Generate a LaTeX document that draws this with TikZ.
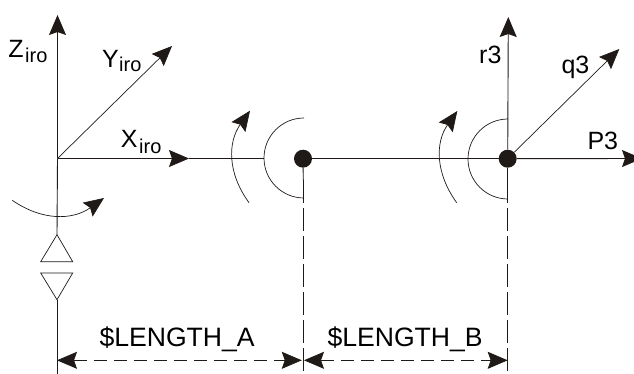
\documentclass[tikz,border=0pt]{standalone}
\usepackage{fontspec}
\setmainfont{Liberation Sans}
\usetikzlibrary{arrows.meta}
\definecolor{ink}{HTML}{1F1A17}
\tikzset{
  x=1pt,y=-1pt,
  line/.style={draw=ink,line width=0.9pt},
  thin line/.style={draw=ink,line width=0.7pt},
  tip/.style={-{Stealth[length=20pt,width=17pt,inset=3pt,fill=ink]}},
  tipped/.style={line,tip},
  thin tipped/.style={thin line,tip},
  tipped both/.style={draw=ink,line width=0.8pt,dash pattern=on 13pt off 7pt,{Stealth[length=20pt,width=17pt,inset=3pt,fill=ink]}-{Stealth[length=20pt,width=17pt,inset=3pt,fill=ink]}},
  dim line/.style={draw=ink,line width=0.8pt,dash pattern=on 23pt off 5pt},
  joint/.style={circle,fill=ink,draw=none,minimum size=18pt,inner sep=0pt},
  lab/.style={anchor=base west,inner sep=0pt,text=black,font=\fontsize{25}{25}\selectfont},
  dimlab/.style={anchor=base west,inner sep=0pt,text=black,font=\fontsize{26.6}{27}\selectfont},
  sub/.style={anchor=base west,inner sep=0pt,text=black,font=\fontsize{20}{20}\selectfont},
}
\begin{document}
\begin{tikzpicture}
\useasboundingbox (0,0) rectangle (634,374);
% named points
\coordinate (O) at (57.5,158.5);
\coordinate (Ztip) at (57.5,15);
\coordinate (Ytip) at (172,46);
\coordinate (Xtip) at (189,158.5);
\coordinate (arcAleft) at (264,158.5);
\node[joint] (A) at (303,158.7) {};
\node[joint] (B) at (507.7,158.7) {};
\coordinate (rtip) at (508.3,17);
\coordinate (qtip) at (619.3,49);
\coordinate (Ptip) at (642,158.5);
\coordinate (triTop) at (57,234.7);
\coordinate (triBot) at (57,299.7);
\coordinate (axisEnd) at (57,374);
\coordinate (Astem) at (303.3,180);
\coordinate (Aend) at (303.3,374);
\coordinate (Bstem) at (507.7,180);
\coordinate (Bend) at (507.7,374);
\coordinate (dimL) at (57,360.3);
\coordinate (dimMa) at (301.8,360.3);
\coordinate (dimMb) at (304,360.3);
\coordinate (dimR) at (507.7,360.3);
% axes
\draw[tipped] (O) -- (Ztip);
\draw[line] (O) -- (triTop);
\draw[thin tipped] (O) -- (Ytip);
\draw[tipped] (O) -- (Xtip);
\draw[line] (Xtip) -- (arcAleft);
\draw[line] (A) -- (B);
\draw[tipped] (B) -- (rtip);
\draw[thin tipped] (B) -- (qtip);
\draw[tipped] (B) -- (Ptip);
% joint arcs
\draw[thin line] (304,118) arc[start angle=90,end angle=270,radius=40pt];
\draw[thin line] (508,119) arc[start angle=90,end angle=270,radius=40pt];
% rotation arrows
\draw[thin tipped] (249,202.7) .. controls (227.3,172.9) and (227.7,142.2) .. (250,110.7);
\draw[thin tipped] (456.7,202.7) .. controls (435.2,172.9) and (435.2,142.3) .. (457.3,111);
\draw[thin tipped] (12.3,200.3) .. controls (42.1,221) and (72.7,220.3) .. (104,198);
% triangles
\draw[thin line] (triTop) -- (72.7,261.7) -- (40.7,261.7) -- cycle;
\draw[thin line] (triBot) -- (72.7,273) -- (40.7,273) -- cycle;
\draw[line] (triBot) -- (axisEnd);
% witness lines
\draw[line] (A) -- (Astem);
\draw[dim line] (Astem) -- (Aend);
\draw[line] (B) -- (Bstem);
\draw[dim line] (Bstem) -- (Bend);
% dimensions
\draw[tipped both] (dimL) -- (dimMa);
\draw[tipped both] (dimMb) -- (dimR);
% labels
\node[lab] (zl) at (8.3,57.3) {Z};
\node[sub] (zs) at (25,62.7) {iro};
\node[lab] (yl) at (102,67.7) {Y};
\node[sub] (ys) at (119,72) {iro};
\node[lab] (xl) at (120.7,147.7) {X};
\node[sub] (xs) at (139,154) {iro};
\node[lab] (rl) at (479,63.3) {r3};
\node[lab] (ql) at (561.3,74) {q3};
\node[lab] (pl) at (587.3,150) {P3};
\node[dimlab] (la) at (99.3,346.3) {\$LENGTH\_A};
\node[dimlab] (lb) at (327.3,346.3) {\$LENGTH\_B};
\end{tikzpicture}
\end{document}
